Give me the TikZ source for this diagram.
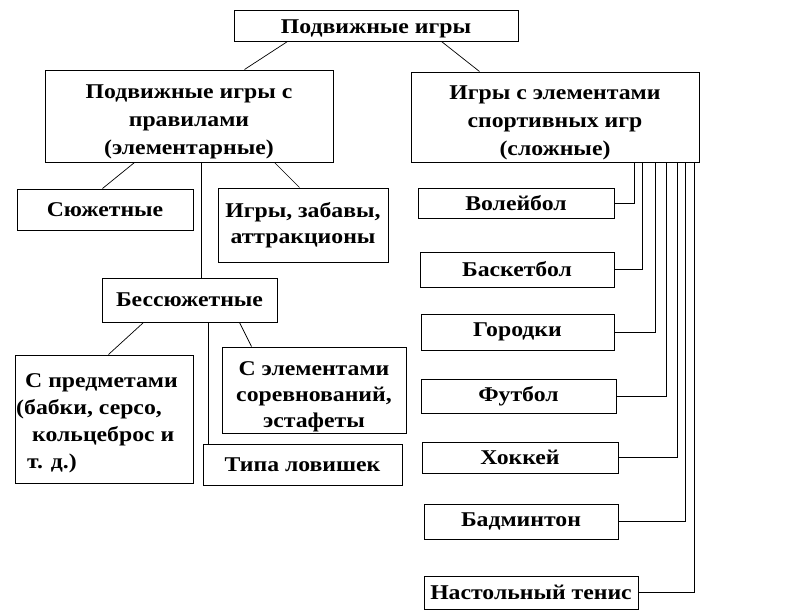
\documentclass[tikz,border=0pt]{standalone}
\usepackage{fontspec}
\setmainfont[FakeStretch=1.13]{Liberation Serif}
\newcommand\lowr[1]{\rule{0pt}{#1pt}}
\begin{document}
\begin{tikzpicture}[x=1pt,y=-1pt,
  box/.style={draw, line width=1pt, inner sep=0pt, align=center,
    font=\fontsize{21}{27}\selectfont\bfseries},
  wide/.style={font=\fontsize{21}{28}\selectfont\bfseries},
  conn/.style={line width=0.7pt}]
\useasboundingbox (0,0) rectangle (796,616);
% boxes: center, width, height
\node[box, minimum width=284, minimum height=31] (top) at (376,25.5) {\lowr{21}Подвижные игры};
\node[box, wide, minimum width=288, minimum height=92] (L) at (189,116) {\lowr{25}Подвижные игры с\\правилами\\(элементарные)};
\node[box, wide, minimum width=288, minimum height=90] (R) at (555,117) {\lowr{25}Игры с элементами\\спортивных игр\\(сложные)};
\node[box, minimum width=176, minimum height=41] (sju) at (105,209.5) {Сюжетные};
\node[box, font=\fontsize{21}{26}\selectfont\bfseries, minimum width=170, minimum height=74] (igr) at (303,225) {Игры, забавы,\\аттракционы};
\node[box, minimum width=175, minimum height=44] (bes) at (189.5,300) {Бессюжетные};
\node[box, minimum width=178, minimum height=128, align=left] (pred) at (104,419) {\lowr{22}\hspace*{9pt}С предметами\hspace*{14pt}\\(бабки, серсо,\\\hspace*{16pt}кольцеброс и\\\hspace*{11pt}т. д.)};
\node[box, font=\fontsize{21}{26}\selectfont\bfseries, minimum width=184, minimum height=86] (sor) at (314,390) {\lowr{27}С элементами\\соревнований,\\эстафеты};
\node[box, minimum width=199, minimum height=41] (lov) at (302.5,464.5) {Типа ловишек};
\node[box, minimum width=196, minimum height=30] (vol) at (516,203) {Волейбол};
\node[box, minimum width=194, minimum height=35] (bas) at (517,269.5) {Баскетбол};
\node[box, minimum width=193, minimum height=36] (gor) at (517.5,332) {Городки};
\node[box, minimum width=195, minimum height=34] (fut) at (518.5,396) {Футбол};
\node[box, minimum width=196, minimum height=31] (hok) at (520,457.5) {Хоккей};
\node[box, minimum width=194, minimum height=35] (bad) at (521,521.5) {Бадминтон};
\node[box, minimum width=214, minimum height=33] (ten) at (531,592.5) {Настольный тенис};
% connectors
\draw[conn] ([xshift=54pt]top.south west) -- ([xshift=200pt]L.north west);
\draw[conn] ([xshift=208pt]top.south west) -- ([xshift=69pt]R.north west);
\draw[conn] ([xshift=90pt]L.south west) -- ([xshift=86pt]sju.north west);
\draw[conn] ([xshift=230pt]L.south west) -- ([xshift=82pt]igr.north west);
\draw[conn] ([xshift=157pt]L.south west) -- ([xshift=100pt]bes.north west);
\draw[conn] ([xshift=42pt]bes.south west) -- ([xshift=94pt]pred.north west);
\draw[conn] ([xshift=107pt]bes.south west) -- ([xshift=6pt]lov.north west);
\draw[conn] ([xshift=138pt]bes.south west) -- ([xshift=30pt]sor.north west);
\draw[conn] ([xshift=224pt]R.south west) |- (vol.east);
\draw[conn] ([xshift=232pt]R.south west) |- (bas.east);
\draw[conn] ([xshift=245pt]R.south west) |- (gor.east);
\draw[conn] ([xshift=256pt]R.south west) |- (fut.east);
\draw[conn] ([xshift=267pt]R.south west) |- (hok.east);
\draw[conn] ([xshift=275pt]R.south west) |- (bad.east);
\draw[conn] ([xshift=284pt]R.south west) |- (ten.east);
\end{tikzpicture}
\end{document}
